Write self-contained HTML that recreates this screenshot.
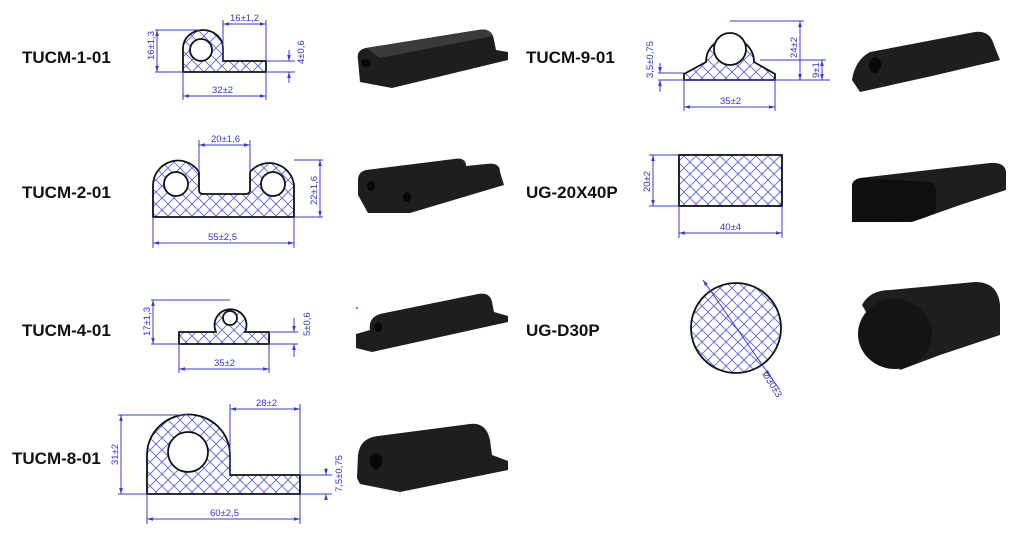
<!DOCTYPE html>
<html><head><meta charset="utf-8"><style>
html,body{margin:0;padding:0;background:#fff;}
svg{display:block;}
.lb{font-family:"Liberation Sans",sans-serif;font-weight:bold;font-size:17px;fill:#111;}
.d{font-family:"Liberation Sans",sans-serif;font-size:9.5px;fill:#3333cc;}
.dl{stroke:#3a3ad0;stroke-width:1;fill:none;}
.sh{fill:url(#hatch);stroke:#111;stroke-width:1.8;}
.ho{fill:#fff;stroke:#111;stroke-width:1.8;}
.ph{fill:#1e1e1e;}
.pl{fill:#3a3a3a;}
.pk{fill:#080808;}
</style></head><body>
<svg width="1024" height="540" viewBox="0 0 1024 540" xmlns="http://www.w3.org/2000/svg">
<defs>
<pattern id="hatch" width="12" height="12" patternUnits="userSpaceOnUse">
<rect width="12" height="12" fill="#fff"/>
<path d="M0 0L12 12M12 0L0 12" stroke="#5a5ae0" stroke-width="0.8"/>
</pattern>
<marker id="a" viewBox="0 0 10 10" refX="10" refY="5" markerWidth="6" markerHeight="6" orient="auto-start-reverse"><path d="M0 2L10 5L0 8z" fill="#3a3ad0"/></marker>
</defs>

<text class="lb" x="22" y="63">TUCM-1-01</text>
<text class="lb" x="22" y="198">TUCM-2-01</text>
<text class="lb" x="22" y="336">TUCM-4-01</text>
<text class="lb" x="12" y="464">TUCM-8-01</text>
<text class="lb" x="526" y="63">TUCM-9-01</text>
<text class="lb" x="526" y="198">UG-20X40P</text>
<text class="lb" x="526" y="336">UG-D30P</text>

<!-- TUCM-1-01 -->
<path class="sh" d="M183 72V48A20 18 0 0 1 223 48V61H266V72Z"/>
<circle class="ho" cx="201" cy="50" r="11"/>
<path class="dl" d="M223 61V20M266 61V20M155 30H200M155 72H183M183 72V100M266 72V100M266 61H295M266 72H295"/>
<line class="dl" x1="223" y1="24" x2="266" y2="24" marker-start="url(#a)" marker-end="url(#a)"/>
<line class="dl" x1="157" y1="30" x2="157" y2="72" marker-start="url(#a)" marker-end="url(#a)"/>
<line class="dl" x1="183" y1="96" x2="266" y2="96" marker-start="url(#a)" marker-end="url(#a)"/>
<line class="dl" x1="289" y1="50" x2="289" y2="61" marker-end="url(#a)"/>
<line class="dl" x1="289" y1="83" x2="289" y2="72" marker-end="url(#a)"/>
<text class="d" x="230" y="21">16±1,2</text>
<text class="d" x="212" y="93">32±2</text>
<text class="d" transform="translate(154 60) rotate(-90)">16±1,3</text>
<text class="d" transform="translate(304 64) rotate(-90)">4±0,6</text>

<!-- TUCM-2-01 -->
<path class="sh" d="M153 217V185A25 25 0 0 1 199 172V190Q199 194 203 194H246Q250 194 250 190V172A25 25 0 0 1 294 185V217Z"/>
<circle class="ho" cx="176" cy="184" r="12"/>
<circle class="ho" cx="273" cy="184" r="12"/>
<path class="dl" d="M199 172V140M250 172V140M294 160H323M294 217H323M153 217V248M294 217V248"/>
<line class="dl" x1="199" y1="145" x2="250" y2="145" marker-start="url(#a)" marker-end="url(#a)"/>
<line class="dl" x1="320" y1="160" x2="320" y2="217" marker-start="url(#a)" marker-end="url(#a)"/>
<line class="dl" x1="153" y1="243" x2="294" y2="243" marker-start="url(#a)" marker-end="url(#a)"/>
<text class="d" x="211" y="142">20±1,6</text>
<text class="d" x="208" y="240">55±2,5</text>
<text class="d" transform="translate(317 205) rotate(-90)">22±1,6</text>

<!-- TUCM-4-01 -->
<path class="sh" d="M179 344V332H216A16 16 0 1 1 245 332H269V344Z"/>
<circle class="ho" cx="230" cy="318" r="7"/>
<path class="dl" d="M151 300H230M151 344H179M179 344V373M269 344V373M269 332H298M269 344H298"/>
<line class="dl" x1="153" y1="300" x2="153" y2="344" marker-start="url(#a)" marker-end="url(#a)"/>
<line class="dl" x1="179" y1="369" x2="269" y2="369" marker-start="url(#a)" marker-end="url(#a)"/>
<line class="dl" x1="294" y1="318" x2="294" y2="332" marker-end="url(#a)"/>
<line class="dl" x1="294" y1="357" x2="294" y2="344" marker-end="url(#a)"/>
<text class="d" x="214" y="366">35±2</text>
<text class="d" transform="translate(150 336) rotate(-90)">17±1,3</text>
<text class="d" transform="translate(310 336) rotate(-90)">5±0,6</text>
<circle cx="357" cy="308" r="1" fill="#d33"/>

<!-- TUCM-8-01 -->
<path class="sh" d="M147 494V455A41 40 0 0 1 230 455V475H300V494Z"/>
<circle class="ho" cx="188" cy="452" r="20"/>
<path class="dl" d="M118 415H188M118 494H147M230 475V404M300 475V404M147 494V524M300 494V524M300 475H332M300 494H332"/>
<line class="dl" x1="230" y1="409" x2="300" y2="409" marker-start="url(#a)" marker-end="url(#a)"/>
<line class="dl" x1="121" y1="415" x2="121" y2="494" marker-start="url(#a)" marker-end="url(#a)"/>
<line class="dl" x1="147" y1="519" x2="300" y2="519" marker-start="url(#a)" marker-end="url(#a)"/>
<line class="dl" x1="326" y1="468" x2="326" y2="475" marker-end="url(#a)"/>
<line class="dl" x1="326" y1="500" x2="326" y2="494" marker-end="url(#a)"/>
<text class="d" x="256" y="406">28±2</text>
<text class="d" x="210" y="516">60±2,5</text>
<text class="d" transform="translate(118 465) rotate(-90)">31±2</text>
<text class="d" transform="translate(342 492) rotate(-90)">7,5±0,75</text>

<!-- TUCM-9-01 -->
<path class="sh" d="M684 80V74L706 62A24 24 0 1 1 754 62L775 74V80Z"/>
<circle class="ho" cx="730" cy="49" r="16"/>
<path class="dl" d="M730 21H804M760 60H826M658 80H830M684 80V111M775 80V111M658 73H684"/>
<line class="dl" x1="800" y1="21" x2="800" y2="80" marker-start="url(#a)" marker-end="url(#a)"/>
<line class="dl" x1="822" y1="60" x2="822" y2="80" marker-start="url(#a)" marker-end="url(#a)"/>
<line class="dl" x1="684" y1="107" x2="775" y2="107" marker-start="url(#a)" marker-end="url(#a)"/>
<line class="dl" x1="660" y1="63" x2="660" y2="73" marker-end="url(#a)"/>
<line class="dl" x1="660" y1="92" x2="660" y2="80" marker-end="url(#a)"/>
<text class="d" x="720" y="104">35±2</text>
<text class="d" transform="translate(797 58) rotate(-90)">24±2</text>
<text class="d" transform="translate(819 78) rotate(-90)">9±1</text>
<text class="d" transform="translate(653 78) rotate(-90)">3,5±0,75</text>

<!-- UG-20X40P -->
<rect class="sh" x="679" y="155" width="103" height="51"/>
<path class="dl" d="M649 155H679M649 206H679M679 206V238M782 206V238"/>
<line class="dl" x1="653" y1="155" x2="653" y2="206" marker-start="url(#a)" marker-end="url(#a)"/>
<line class="dl" x1="679" y1="233" x2="782" y2="233" marker-start="url(#a)" marker-end="url(#a)"/>
<text class="d" x="720" y="230">40±4</text>
<text class="d" transform="translate(650 192) rotate(-90)">20±2</text>

<!-- UG-D30P -->
<circle class="sh" cx="736" cy="328" r="45"/>
<line class="dl" x1="703" y1="280" x2="770" y2="376" marker-start="url(#a)" marker-end="url(#a)"/>
<line class="dl" x1="770" y1="376" x2="780" y2="390"/>
<text class="d" transform="translate(762 374) rotate(58)">Ø30±3</text>

<!-- Photos -->
<path class="ph" d="M358 60Q356 50 366 48L478 30Q492 27 494 40L496 50L508 52L508 60L392 88L360 82Z"/>
<path class="pl" d="M366 48L478 30Q490 28 493 36L380 58Z"/>
<ellipse class="pk" cx="366" cy="63" rx="5" ry="4"/>
<path class="ph" d="M358 195V180Q358 172 366 170L454 159Q466 157 466 166L486 164Q500 162 500 172L504 185L410 213H368Z"/>
<ellipse class="pk" cx="371" cy="186" rx="4" ry="5"/>
<ellipse class="pk" cx="407" cy="197" rx="4" ry="5"/>
<path class="ph" d="M356 340V334L370 330Q368 318 380 314L478 294Q490 292 492 302L494 312L508 316V322L372 352L356 348Z"/>
<ellipse class="pk" cx="378" cy="327" rx="4" ry="5"/>
<path class="ph" d="M357 478L358 455Q360 438 378 436L470 424Q486 422 490 440L492 455L508 461V470L400 492L360 484Z"/>
<ellipse class="pk" cx="376" cy="461" rx="6" ry="8"/>
<path class="ph" d="M852 80Q855 60 870 52L975 32Q990 30 994 45L1000 60L932 76L860 92Z"/>
<ellipse class="pk" cx="875" cy="65" rx="6" ry="8"/>
<path class="ph" d="M852 222V186Q852 180 860 178L990 163Q1005 162 1006 172L1006 190L960 205L912 222Z"/>
<path class="pk" d="M852 222V186Q852 180 860 178L930 182Q936 184 936 192L936 212Q920 222 900 222Z" opacity="0.7"/>
<path class="ph" d="M862 305Q870 290 890 290L975 282Q998 282 1000 305L1000 335L940 355L900 370Z"/>
<ellipse cx="895" cy="334" rx="37" ry="35" fill="#141414"/>
</svg>
</body></html>
